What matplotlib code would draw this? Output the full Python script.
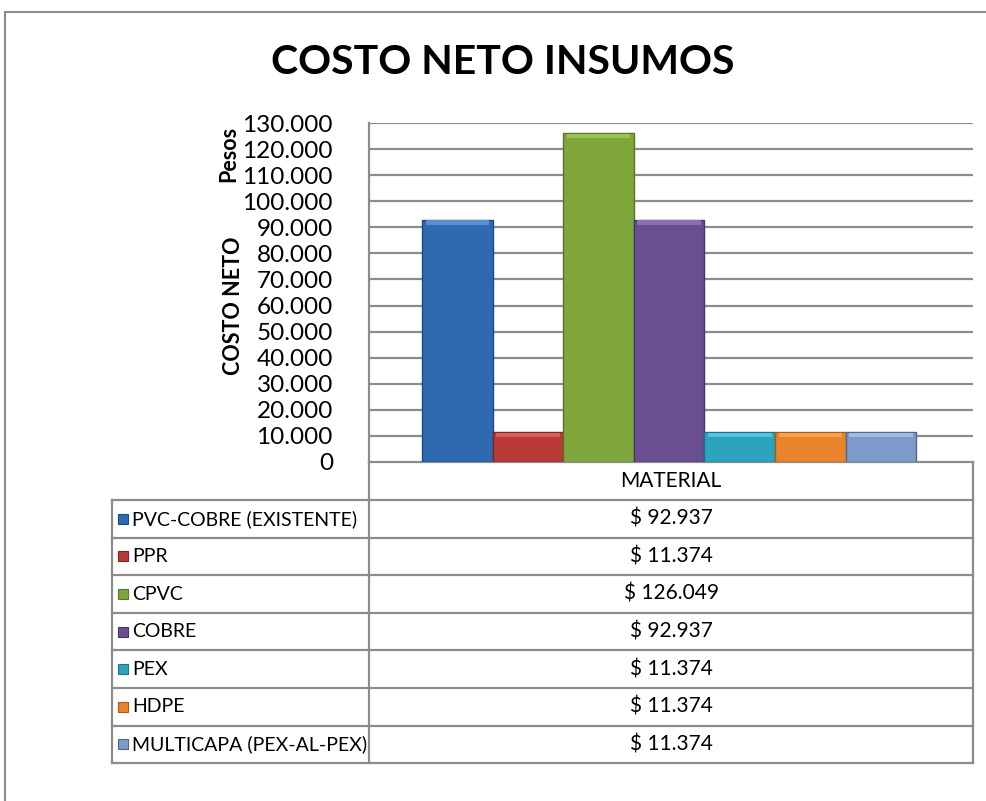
import numpy as np
import matplotlib.pyplot as plt
from matplotlib.ticker import FuncFormatter

materiales = ["PVC-COBRE (EXISTENTE)", "PPR", "CPVC", "COBRE", "PEX", "HDPE",
              "MULTICAPA (PEX-AL-PEX)"]
costos = [92937, 11374, 126049, 92937, 11374, 11374, 11374]
colores = ["#2f6ab0", "#b93a36", "#7fa63a", "#6a4f90", "#2ea3bd", "#e9832c", "#7c9bc8"]
bordes = ["#1f4a80", "#7f2522", "#56742a", "#47356a", "#1c7387", "#a85a1c", "#50688f"]
claros = ["#5a8fd0", "#d4605c", "#9cc455", "#8a70b3", "#55c4dc", "#f9a24e", "#a2bce2"]
categoria = "MATERIAL"
yticks = list(range(0, 130001, 10000))

FONT = "Lato"
plt.rcParams["font.family"] = [FONT, "DejaVu Sans"]

W, H = 986, 801
fig = plt.figure(figsize=(W / 100, H / 100), dpi=100)

# pixel helpers
def fx(px):
    return px / W

def fy(py):
    return 1 - py / H

x0, x1, ytop, ybot = 369, 973, 123, 462
ax = fig.add_axes([fx(x0), fy(ybot), fx(x1) - fx(x0), fy(ytop) - fy(ybot)])
ax.set_xlim(-0.5, 0.5)
ax.set_ylim(0, 130000)

n = len(costos)
ancho = 0.818 / n
pos = (np.arange(n) - (n - 1) / 2) * ancho - 0.003
ax.bar(pos, costos, width=ancho, color=colores, edgecolor=bordes, linewidth=1.0, zorder=3)
# bevel band on top
banda = 1600
ax.bar(pos, [banda] * n, bottom=np.array(costos) - banda - 300, width=ancho * 0.9,
       color=claros, linewidth=0, zorder=4)

ax.set_yticks(yticks)
ax.yaxis.set_major_formatter(FuncFormatter(lambda v, p: f"{int(v):,}".replace(",", ".")))
ax.tick_params(axis="y", length=0, pad=26, labelsize=17.5)
ax.set_xticks([])
ax.grid(axis="y", color="#8c8c8c", linewidth=1.6, zorder=0)
for s in ["top", "right", "bottom"]:
    ax.spines[s].set_visible(False)
ax.spines["left"].set_color("#8c8c8c")
ax.spines["left"].set_linewidth(1.6)

# title and axis label
fig.text(fx(503), fy(62), "COSTO NETO INSUMOS", ha="center", va="center",
         fontsize=29.5, fontweight="bold")
fig.text(fx(233), fy(306), "COSTO NETO", rotation=90, ha="center", va="center",
         fontsize=15.5, fontweight="bold")
fig.text(fx(229), fy(154), "Pesos", rotation=90, ha="center", va="center",
         fontsize=15.5, fontweight="bold")

# overlay for chart border + data table
ov = fig.add_axes([0, 0, 1, 1], zorder=-1)
ov.set_xlim(0, W)
ov.set_ylim(H, 0)
ov.axis("off")
gris = "#8c8c8c"
ov.plot([5, W], [12, 12], color=gris, lw=1.5)
ov.plot([5, 5], [12, H], color=gris, lw=1.5)

tl, tr = 112, 973
fila = 37.6
y_head = ybot + 38
ov.plot([x0, x0], [ybot, y_head + fila * n], color=gris, lw=1.6)
ov.plot([x1, x1], [ybot, y_head + fila * n], color=gris, lw=1.6)
ov.plot([x0, x1], [ybot, ybot], color=gris, lw=1.6)
ov.text((x0 + x1) / 2, (ybot + y_head) / 2, categoria, ha="center", va="center", fontsize=15)
ov.plot([tl, tl], [y_head, y_head + fila * n], color=gris, lw=1.6)
for i, (m, c) in enumerate(zip(materiales, costos)):
    yt = y_head + fila * i
    ov.plot([tl, tr], [yt, yt], color=gris, lw=1.6)
    yc = yt + fila / 2
    ov.add_patch(plt.Rectangle((118, yc - 5), 10, 10, facecolor=colores[i],
                               edgecolor=bordes[i], lw=0.8))
    ov.text(132, yc, m, ha="left", va="center", fontsize=14)
    ov.text((x0 + x1) / 2, yc, "$ " + f"{c:,}".replace(",", "."), ha="center",
            va="center", fontsize=15)
ov.plot([tl, tr], [y_head + fila * n] * 2, color=gris, lw=1.6)

fig.savefig("out.png", dpi=100, facecolor="white")
